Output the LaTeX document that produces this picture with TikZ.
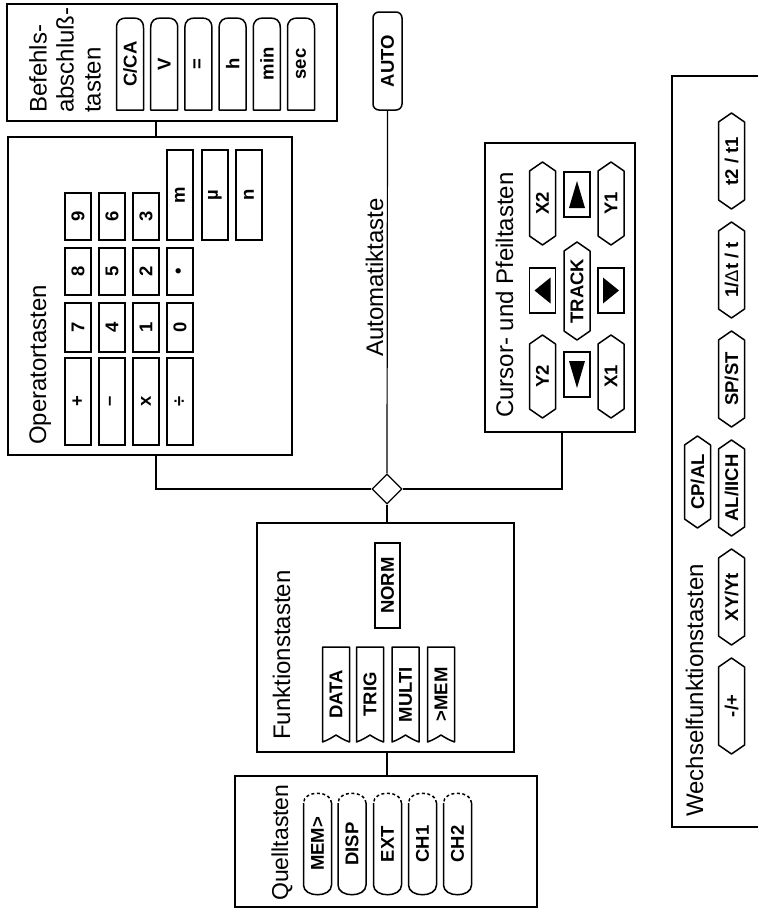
\documentclass[tikz,border=0pt]{standalone}
\usepackage{fontspec}
\setmainfont{Liberation Sans}
\usetikzlibrary{calc,shapes.geometric}
\newcommand\ttlfont{\fontsize{24}{27}\selectfont}
\newcommand\keyfont{\fontsize{18.5}{20}\selectfont\bfseries}
\newcommand\hexkey[5]{%
  \node[klbl] (#1) at (#2,#3) {#4};
  \draw[kline] ($(#1)+(0,-#5)$) -- ($(#1)+(13,-#5+9)$) -- ($(#1)+(13,#5-9)$) -- ($(#1)+(0,#5)$) -- ($(#1)+(-13,#5-9)$) -- ($(#1)+(-13,-#5+9)$) -- cycle;}
\newcommand\capkey[5]{%
  \node[klbl] (#1) at (#2,#3) {#4};
  \draw[kline] ($(#1)+(-14,-#5+10)$) -- ($(#1)+(-14,#5-10)$) .. controls ($(#1)+(-14,#5+3)$) and ($(#1)+(14,#5+3)$) .. ($(#1)+(14,#5-10)$) -- ($(#1)+(14,-#5+10)$);
  \draw[kline,dash pattern=on 3pt off 2.5pt] ($(#1)+(14,-#5+10)$) .. controls ($(#1)+(14,-#5-3)$) and ($(#1)+(-14,-#5-3)$) .. ($(#1)+(-14,-#5+10)$);}
\newcommand\tabkey[5]{%
  \node[klbl] (#1) at (#2,#3) {#4};
  \draw[kline] ($(#1)+(-13.5,#5)$) -- ($(#1)+(-13.5,-#5+10)$) .. controls ($(#1)+(-13.5,-#5+2)$) and ($(#1)+(-9,-#5)$) .. ($(#1)+(-3,-#5)$) -- ($(#1)+(3,-#5)$) .. controls ($(#1)+(9,-#5)$) and ($(#1)+(13.5,-#5+2)$) .. ($(#1)+(13.5,-#5+10)$) -- ($(#1)+(13.5,#5)$) -- cycle;}
\newcommand\ribkey[5]{%
  \node[klbl] (#1) at (#2,#3) {#4};
  \draw[kline] ($(#1)+(-13.5,#5)$) -- ($(#1)+(-13.5,-#5)$) -- ($(#1)+(13.5,-#5)$) -- ($(#1)+(13.5,#5)$) .. controls ($(#1)+(8,#5-2)$) and ($(#1)+(3,#5-5)$) .. ($(#1)+(0,#5-7)$) .. controls ($(#1)+(-3,#5-5)$) and ($(#1)+(-8,#5-2)$) .. ($(#1)+(-13.5,#5)$) -- cycle;}
\begin{document}
\begin{tikzpicture}[x=1pt,y=-1pt,
  grp/.style={draw, line width=1.2pt, inner sep=0pt},
  klbl/.style={rotate=90, font=\keyfont, inner sep=0pt},
  kline/.style={line width=1.5pt, line join=round},
  sqk/.style={klbl, draw, line width=1.5pt, minimum height=26pt},
  ttl/.style={rotate=90, font=\ttlfont, inner sep=0pt, anchor=base west},
  wire/.style={line width=1.2pt},
  tri/.style={fill=black}]
\useasboundingbox (0,0) rectangle (758,913);
\fill[white] (0,0) rectangle (758,913);

% group boxes
\node[grp, minimum width=330pt, minimum height=117pt] (befbox) at (172,62.5) {};
\node[grp, minimum width=284pt, minimum height=318pt] (opbox) at (150,296) {};
\node[grp, minimum width=150pt, minimum height=289pt] (curbox) at (560,287.5) {};
\node[grp, minimum width=257pt, minimum height=229pt] (funbox) at (385.5,637.5) {};
\node[grp, minimum width=302pt, minimum height=131pt] (quelbox) at (386,841.5) {};
\draw[wire] (758,76) -- (672,76) -- (672,827) -- (758,827);

% titles
\node[rotate=90, font=\ttlfont, inner sep=0pt, align=left, anchor=north west] (beftxt) at (29,113) {Befehls-\\abschluß-\\tasten};
\node[ttl] (optxt) at (46,445) {Operatortasten};
\node[ttl] (autotxt) at (383,357) {Automatiktaste};
\node[ttl] (curtxt) at (513,418) {Cursor- und Pfeiltasten};
\node[ttl] (funtxt) at (290,740) {Funktionstasten};
\node[ttl, font=\fontsize{23}{26}\selectfont] (queltxt) at (288,901) {Quelltasten};
\node[ttl] (wechtxt) at (703,817) {Wechselfunktionstasten};

% Befehlsabschlusstasten
\tabkey{kca}{130}{64}{C/CA}{46}
\tabkey{kv}{164.2}{64}{V}{46}
\tabkey{keq}{198.4}{64}{=}{46}
\tabkey{kh}{232.6}{64}{h}{46}
\tabkey{kmin}{266.8}{64}{min}{46}
\tabkey{ksec}{301}{64}{sec}{46}

% Operatortasten
\node[sqk, minimum width=87pt] (kplus) at (78,401.5) {+};
\node[sqk, minimum width=87pt] (kminus) at (112,401.5) {–};
\node[sqk, minimum width=87pt] (ktimes) at (146,401.5) {x};
\node[sqk, minimum width=87pt] (kdiv) at (180,401.5) {÷};
\node[sqk, minimum width=49pt] (k7) at (78,327.5) {7};
\node[sqk, minimum width=49pt] (k4) at (112,327.5) {4};
\node[sqk, minimum width=49pt] (k1) at (146,327.5) {1};
\node[sqk, minimum width=49pt] (k0) at (180,327.5) {0};
\node[sqk, minimum width=47pt] (k8) at (78,271.5) {8};
\node[sqk, minimum width=47pt] (k5) at (112,271.5) {5};
\node[sqk, minimum width=47pt] (k2) at (146,271.5) {2};
\node[sqk, minimum width=47pt] (kdot) at (180,271.5) {•};
\node[sqk, minimum width=47pt] (k9) at (78,216.5) {9};
\node[sqk, minimum width=47pt] (k6) at (112,216.5) {6};
\node[sqk, minimum width=47pt] (k3) at (146,216.5) {3};
\node[sqk, minimum width=90pt] (km) at (180,195) {m};
\node[sqk, minimum width=90pt] (kmu) at (215,195) {µ};
\node[sqk, minimum width=90pt] (kn) at (249,195) {n};

% Automatiktaste
\node[klbl, draw, line width=1.5pt, rounded corners=6pt, minimum width=98pt, minimum height=29pt] (autokey) at (387.5,61) {AUTO};
\node[diamond, draw, line width=1.2pt, minimum width=30pt, minimum height=30pt, inner sep=0pt] (dia) at (387,489) {};

% Cursor- und Pfeiltasten
\hexkey{kx2}{542.5}{203.5}{X2}{41.5}
\node[sqk, minimum width=45pt] (kleft) at (542.5,290.5) {};
\hexkey{ky2}{542.5}{376.5}{Y2}{41.5}
\node[sqk, minimum width=45pt] (kup) at (577,194.5) {};
\hexkey{ktrack}{577}{291}{TRACK}{49}
\node[sqk, minimum width=45pt] (kdown) at (577,374.5) {};
\hexkey{ky1}{611}{203.5}{Y1}{41.5}
\node[sqk, minimum width=45pt] (kright) at (611,290.5) {};
\hexkey{kx1}{611}{376.5}{X1}{41.5}
\fill[tri] ($(kleft)+(-8,0)$) -- ($(kleft)+(8,-13)$) -- ($(kleft)+(8,13)$) -- cycle;
\fill[tri] ($(kright)+(8,0)$) -- ($(kright)+(-8,-13)$) -- ($(kright)+(-8,13)$) -- cycle;
\fill[tri] ($(kup)+(0,-13.5)$) -- ($(kup)+(-8,13.5)$) -- ($(kup)+(8,13.5)$) -- cycle;
\fill[tri] ($(kdown)+(0,13.5)$) -- ($(kdown)+(-8,-13.5)$) -- ($(kdown)+(8,-13.5)$) -- cycle;

% Funktionstasten
\node[sqk, minimum width=85pt, minimum height=25pt] (knorm) at (387.5,585.5) {NORM};
\ribkey{kdata}{336}{694.5}{DATA}{47.5}
\ribkey{ktrig}{370}{694.5}{TRIG}{47.5}
\ribkey{kmulti}{405.5}{694.5}{MULTI}{47.5}
\ribkey{ktomem}{441}{694.5}{>MEM}{47.5}

% Quelltasten
\capkey{kmem}{317.5}{844}{MEM>}{51}
\capkey{kdisp}{352}{844}{DISP}{51}
\capkey{kext}{387.5}{844}{EXT}{51}
\capkey{kch1}{422.5}{844}{CH1}{51}
\capkey{kch2}{457.5}{844}{CH2}{51}

% Wechselfunktionstasten
\hexkey{kt2}{731.5}{161}{t2 / t1}{48}
\hexkey{kdt}{731.5}{270}{1/{\mdseries Δ}t / t}{48}
\hexkey{kspst}{731.5}{379}{SP/ST}{48}
\hexkey{kalich}{731.5}{488}{AL/IICH}{48}
\hexkey{kxy}{731.5}{597}{XY/Yt}{48}
\hexkey{kpm}{731.5}{706}{-/+}{48}
\hexkey{kcpal}{697.5}{482}{CP/AL}{46}

% connectors
\coordinate (jx) at (156,489);
\coordinate (cx) at (562,489);
\draw[wire] (befbox.south -| jx) -- (opbox.north -| jx);
\draw[wire] (opbox.south -| jx) -- (jx) -- (dia.west);
\draw[wire] (autokey.west) -- (dia.north);
\draw[wire] (dia.east) -- (cx) -- (curbox.south -| cx);
\draw[wire] (dia.south) -- (funbox.north -| dia.south);
\draw[wire] (funbox.south -| dia.south) -- (quelbox.north -| dia.south);
\end{tikzpicture}
\end{document}
